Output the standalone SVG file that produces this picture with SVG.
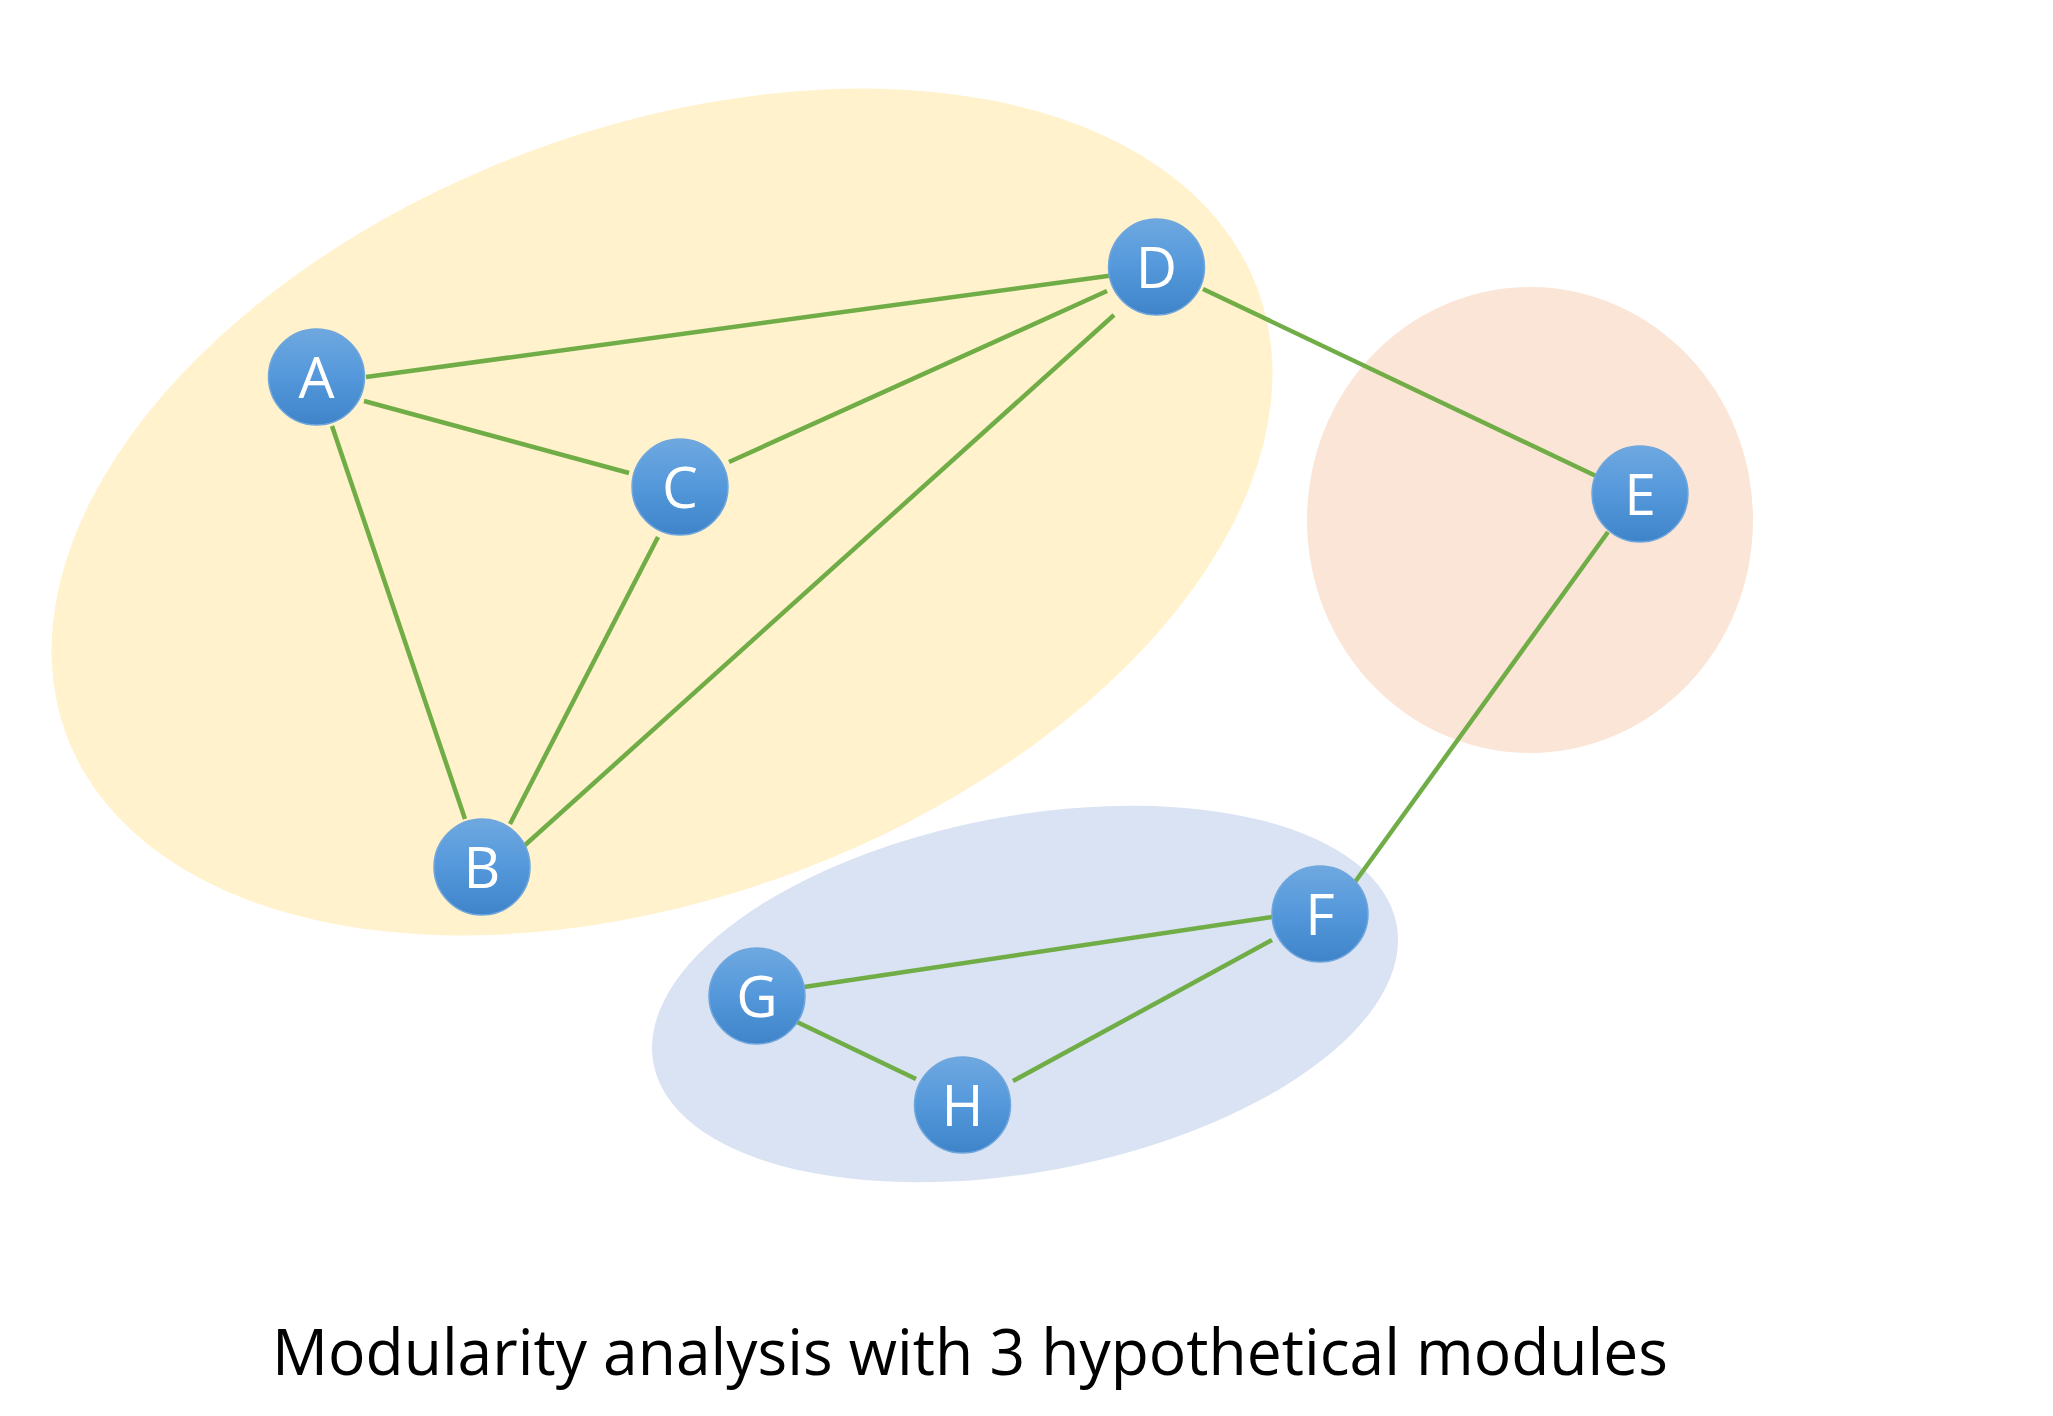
<svg xmlns="http://www.w3.org/2000/svg" width="2053" height="1416" viewBox="0 0 2053 1416">
<defs>
<linearGradient id="nodeGrad" x1="0" y1="0" x2="0" y2="1">
<stop offset="0" stop-color="#6ea8e0"/>
<stop offset="0.5" stop-color="#5498db"/>
<stop offset="1" stop-color="#3f83c9"/>
</linearGradient>
<style>
.mod { stroke: none; }
.edge { stroke: #70AD47; stroke-width: 4.5; stroke-linecap: butt; fill: none; }
.node circle { fill: url(#nodeGrad); stroke: #6fa6dc; stroke-width: 1.5; }
.node text { fill: #ffffff; font-family: "Open Sans", "Liberation Sans", sans-serif; font-size: 57px; text-anchor: middle; }
.title { fill: #000000; font-family: "Open Sans", "Liberation Sans", sans-serif; font-size: 64px; }
</style>
</defs>
<rect width="2053" height="1416" fill="#ffffff"/>
<g id="modules">
<ellipse id="module-yellow" class="mod" cx="662" cy="512" rx="636" ry="384" transform="rotate(-20.6 662 512)" fill="#FFF2CC"/>
<ellipse id="module-orange" class="mod" cx="1530" cy="520" rx="223" ry="233" fill="#FBE5D6"/>
<ellipse id="module-blue" class="mod" cx="1025" cy="994" rx="378" ry="178" transform="rotate(-10.6 1025 994)" fill="#DAE3F3"/>
</g>
<g id="connectors">
<line class="edge" x1="366" y1="377" x2="1115" y2="275"/>
<line class="edge" x1="364" y1="401" x2="629" y2="473"/>
<line class="edge" x1="332" y1="426" x2="465" y2="819"/>
<line class="edge" x1="729" y1="462" x2="1107" y2="291"/>
<line class="edge" x1="658" y1="537" x2="510" y2="824"/>
<line class="edge" x1="1114" y1="315" x2="524" y2="846"/>
<line class="edge" x1="1203" y1="289" x2="1596" y2="476"/>
<line class="edge" x1="1608" y1="532" x2="1355" y2="882"/>
<line class="edge" x1="1272" y1="917" x2="804" y2="987"/>
<line class="edge" x1="1272" y1="940" x2="1013" y2="1081"/>
<line class="edge" x1="797" y1="1022" x2="916" y2="1079"/>
</g>
<g id="node-A" class="node"><circle cx="316.5" cy="377" r="48"/><text x="316.5" y="398">A</text></g>
<g id="node-B" class="node"><circle cx="482" cy="867" r="48"/><text x="482" y="888">B</text></g>
<g id="node-C" class="node"><circle cx="680" cy="487" r="48"/><text x="680" y="508">C</text></g>
<g id="node-D" class="node"><circle cx="1156.5" cy="267" r="48"/><text x="1156.5" y="288">D</text></g>
<g id="node-E" class="node"><circle cx="1640" cy="494" r="48"/><text x="1640" y="515">E</text></g>
<g id="node-F" class="node"><circle cx="1320" cy="914" r="48"/><text x="1320" y="935">F</text></g>
<g id="node-G" class="node"><circle cx="757" cy="996" r="48"/><text x="757" y="1017">G</text></g>
<g id="node-H" class="node"><circle cx="962.5" cy="1105" r="48"/><text x="962.5" y="1126">H</text></g>
<text class="title" x="272" y="1375" textLength="1396" lengthAdjust="spacingAndGlyphs">Modularity analysis with 3 hypothetical modules</text>
</svg>
